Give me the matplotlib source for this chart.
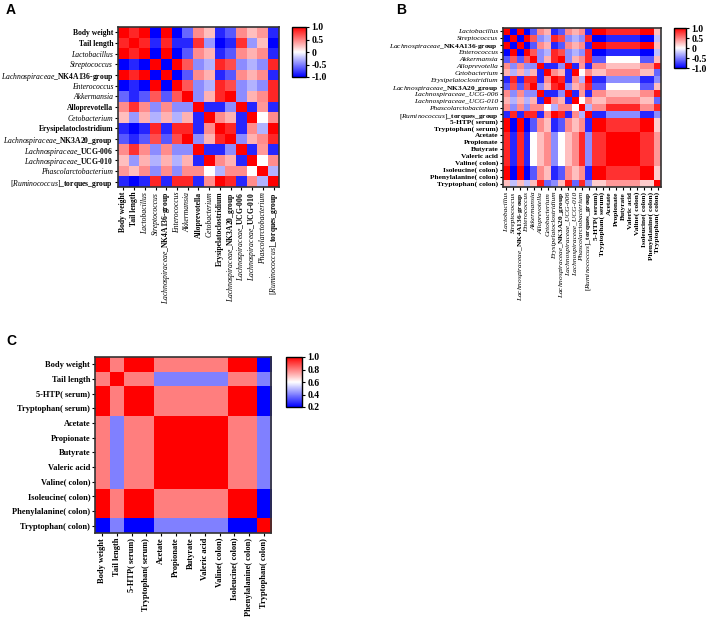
import matplotlib
matplotlib.use("Agg")
import matplotlib.pyplot as plt
import numpy as np

plt.rcParams['font.family'] = 'Liberation Serif'
plt.rcParams['mathtext.fontset'] = 'custom'
plt.rcParams['mathtext.it'] = 'Liberation Serif:italic'
plt.rcParams['mathtext.rm'] = 'Liberation Serif'
plt.rcParams['mathtext.bf'] = 'Liberation Serif:bold'

# ---- panel A: phenotype + genera ----
labels_a = ["Body weight", "Tail length", "Lactobacillus", "Streptococcus",
            r"$\mathit{Lachnospiraceae}$_NK4A136-group", "Enterococcus", "Akkermansia",
            "Alloprevotella", "Cetobacterium", "Erysipelatoclostridium",
            r"$\mathit{Lachnospiraceae}$_NK3A20_group", r"$\mathit{Lachnospiraceae}$_UCG-006",
            r"$\mathit{Lachnospiraceae}$_UCG-010", "Phascolarctobacterium",
            r"$\mathit{[Ruminococcus]}$_torques_group"]
styles_a = ["b", "b", "i", "i", "m", "i", "i", "b", "i", "b", "m", "m", "m", "i", "m"]

corr_a = [
    [1.0, 0.85, 1.0, -1.0, 1.0, -1.0, -0.6, 0.45, 0.25, -0.85, -0.65, 0.45, 0.25, 0.4, -0.85],
    [0.85, 1.0, 0.85, -0.85, 0.85, -0.85, -0.85, 0.8, -0.4, -1.0, -0.85, 0.8, -0.4, 0.25, -1.0],
    [1.0, 0.85, 1.0, -1.0, 1.0, -1.0, -0.65, 0.45, 0.3, -0.85, -0.65, 0.45, 0.3, 0.45, -0.85],
    [-1.0, -0.85, -1.0, 1.0, -1.0, 1.0, 0.65, -0.45, -0.3, 0.85, 0.7, -0.45, -0.3, -0.45, 0.85],
    [1.0, 0.85, 1.0, -1.0, 1.0, -1.0, -0.65, 0.45, 0.3, -0.85, -0.65, 0.45, 0.3, 0.45, -0.85],
    [-1.0, -0.85, -1.0, 1.0, -1.0, 1.0, 0.65, -0.45, -0.3, 0.85, 0.7, -0.45, -0.3, -0.45, 0.85],
    [-0.6, -0.85, -0.65, 0.65, -0.65, 0.65, 1.0, -0.45, 0.3, 0.85, 1.0, -0.45, 0.3, 0.45, 0.85],
    [0.45, 0.8, 0.45, -0.45, 0.45, -0.45, -0.45, 1.0, -0.85, -0.85, -0.45, 1.0, -0.85, 0.4, -0.85],
    [0.25, -0.4, 0.3, -0.3, 0.3, -0.3, 0.3, -0.85, 1.0, 0.45, 0.3, -0.85, 1.0, 0.0, 0.45],
    [-0.85, -1.0, -0.85, 0.85, -0.85, 0.85, 0.85, -0.85, 0.45, 1.0, 0.85, -0.85, 0.45, -0.3, 1.0],
    [-0.65, -0.85, -0.65, 0.7, -0.65, 0.7, 1.0, -0.45, 0.3, 0.85, 1.0, -0.45, 0.3, 0.45, 0.85],
    [0.45, 0.8, 0.45, -0.45, 0.45, -0.45, -0.45, 1.0, -0.85, -0.85, -0.45, 1.0, -0.85, 0.4, -0.85],
    [0.25, -0.4, 0.3, -0.3, 0.3, -0.3, 0.3, -0.85, 1.0, 0.45, 0.3, -0.85, 1.0, 0.0, 0.45],
    [0.4, 0.25, 0.45, -0.45, 0.45, -0.45, 0.45, 0.45, 0.0, -0.3, 0.45, 0.45, 0.0, 1.0, -0.3],
    [-0.85, -1.0, -0.85, 0.85, -0.85, 0.85, 0.85, -0.85, 0.45, 1.0, 0.85, -0.85, 0.45, -0.3, 1.0],
]

# ---- panel C: phenotype + metabolites ----
labels_c = ["Body weight", "Tail length", "5-HTP( serum)", "Tryptophan( serum)", "Acetate",
            "Propionate", "Butyrate", "Valeric acid", "Valine( colon)", "Isoleucine( colon)",
            "Phenylalanine( colon)", "Tryptophan( colon)"]

corr_c = [
    [1.0, 0.8, 1.0, 1.0, 0.8, 0.8, 0.8, 0.8, 0.8, 1.0, 1.0, 0.2],
    [0.8, 1.0, 0.8, 0.8, 0.4, 0.4, 0.4, 0.4, 0.4, 0.8, 0.8, 0.4],
    [1.0, 0.8, 1.0, 1.0, 0.8, 0.8, 0.8, 0.8, 0.8, 1.0, 1.0, 0.2],
    [1.0, 0.8, 1.0, 1.0, 0.8, 0.8, 0.8, 0.8, 0.8, 1.0, 1.0, 0.2],
    [0.8, 0.4, 0.8, 0.8, 1.0, 1.0, 1.0, 1.0, 1.0, 0.8, 0.8, 0.4],
    [0.8, 0.4, 0.8, 0.8, 1.0, 1.0, 1.0, 1.0, 1.0, 0.8, 0.8, 0.4],
    [0.8, 0.4, 0.8, 0.8, 1.0, 1.0, 1.0, 1.0, 1.0, 0.8, 0.8, 0.4],
    [0.8, 0.4, 0.8, 0.8, 1.0, 1.0, 1.0, 1.0, 1.0, 0.8, 0.8, 0.4],
    [0.8, 0.4, 0.8, 0.8, 1.0, 1.0, 1.0, 1.0, 1.0, 0.8, 0.8, 0.4],
    [1.0, 0.8, 1.0, 1.0, 0.8, 0.8, 0.8, 0.8, 0.8, 1.0, 1.0, 0.2],
    [1.0, 0.8, 1.0, 1.0, 0.8, 0.8, 0.8, 0.8, 0.8, 1.0, 1.0, 0.2],
    [0.2, 0.4, 0.2, 0.2, 0.4, 0.4, 0.4, 0.4, 0.4, 0.2, 0.2, 1.0],
]

# ---- panel B: genera + metabolites ----
labels_b = ["Lactobacillus", "Streptococcus", r"$\mathit{Lachnospiraceae}$_NK4A136-group",
            "Enterococcus", "Akkermansia", "Alloprevotella", "Cetobacterium",
            "Erysipelatoclostridium", r"$\mathit{Lachnospiraceae}$_NK3A20_group",
            "Lachnospiraceae_UCG-006", "Lachnospiraceae_UCG-010", "Phascolarctobacterium",
            r"$\mathit{[Ruminococcus]}$_torques_group"] + labels_c[2:]
styles_b = ["i", "i", "m", "i", "i", "i", "i", "i", "m", "i", "i", "i", "m"] + ["b"] * 10

# genus vs metabolite (cols: 5-HTP, Trp serum, Acetate, Propionate, Butyrate, Valeric, Valine, Ile, Phe, Trp colon)
genus_metab = [
    [1.0, 1.0, 0.85, 0.85, 0.85, 0.85, 0.85, 1.0, 1.0, 0.25],
    [-1.0, -1.0, -0.85, -0.85, -0.85, -0.85, -0.85, -1.0, -1.0, -0.25],
    [1.0, 1.0, 0.85, 0.85, 0.85, 0.85, 0.85, 1.0, 1.0, 0.25],
    [-1.0, -1.0, -0.85, -0.85, -0.85, -0.85, -0.85, -1.0, -1.0, -0.25],
    [-0.65, -0.65, 0.0, 0.0, 0.0, 0.0, 0.0, -0.65, -0.65, 0.25],
    [0.45, 0.45, 0.25, 0.25, 0.25, 0.25, 0.25, 0.45, 0.45, 0.9],
    [0.25, 0.25, 0.45, 0.45, 0.45, 0.45, 0.45, 0.25, 0.25, -0.6],
    [-0.85, -0.85, -0.45, -0.45, -0.45, -0.45, -0.45, -0.85, -0.85, -0.45],
    [-0.65, -0.65, 0.0, 0.0, 0.0, 0.0, 0.0, -0.65, -0.65, 0.25],
    [0.45, 0.45, 0.25, 0.25, 0.25, 0.25, 0.25, 0.45, 0.45, 0.9],
    [0.25, 0.25, 0.45, 0.45, 0.45, 0.45, 0.45, 0.25, 0.25, -0.6],
    [0.45, 0.45, 0.85, 0.85, 0.85, 0.85, 0.85, 0.45, 0.45, 0.85],
    [-0.85, -0.85, -0.45, -0.45, -0.45, -0.45, -0.45, -0.85, -0.85, -0.45],
]

A = np.array(corr_a)
C = np.array(corr_c)
GM = np.array(genus_metab)
B = np.block([[A[2:, 2:], GM], [GM.T, C[2:, 2:]]])

W, H = 708, 626
fig = plt.figure(figsize=(W / 100, H / 100), dpi=100)


def box(x0, y0, x1, y1):
    return [x0 / W, 1 - y1 / H, (x1 - x0) / W, (y1 - y0) / H]


def heat(rect, mat, labels, styles, vmin, vmax, fs):
    ax = fig.add_axes(rect)
    im = ax.imshow(mat, cmap='bwr', vmin=vmin, vmax=vmax, aspect='auto',
                   interpolation='nearest')
    n = len(labels)
    ax.set_xticks(range(n))
    ax.set_yticks(range(n))
    ax.set_xticklabels(labels, rotation=90)
    ax.set_yticklabels(labels)
    for lab_list in (ax.get_xticklabels(), ax.get_yticklabels()):
        for t, s in zip(lab_list, styles):
            t.set_fontsize(fs)
            if s == "i":
                t.set_fontstyle('italic')
                t.set_fontweight('normal')
            else:
                t.set_fontweight('bold')
    ax.tick_params(length=2.5, width=0.8, pad=1)
    for sp in ax.spines.values():
        sp.set_linewidth(1.2)
        sp.set_color('#333333')
    return im


def cbar(im, rect, ticks, ticklabels):
    cax = fig.add_axes(rect)
    cb = fig.colorbar(im, cax=cax)
    cb.set_ticks(ticks)
    cb.set_ticklabels(ticklabels)
    cb.ax.tick_params(length=2, width=0.8, pad=2, labelsize=7)
    for t in cb.ax.get_yticklabels():
        t.set_fontweight('bold')
    cb.outline.set_linewidth(1.0)
    return cb


im_a = heat(box(118, 27, 279, 187), A, labels_a, styles_a, -1, 1, 5.5)
cbar(im_a, box(292, 27, 306, 77), [1, 0.5, 0, -0.5, -1], ["1.0", "0.5", "0", "-0.5", "-1.0"])

im_b = heat(box(503, 28, 661, 187), B, labels_b, styles_b, -1, 1, 5.3)
cbar(im_b, box(674, 28, 686, 68), [1, 0.5, 0, -0.5, -1], ["1.0", "0.5", "0", "-0.5", "-1.0"])

im_c = heat(box(95, 357, 271, 533), C, labels_c, ["b"] * 12, 0.2, 1.0, 6)
cbar(im_c, box(286, 357, 302, 407), [1.0, 0.8, 0.6, 0.4, 0.2], ["1.0", "0.8", "0.6", "0.4", "0.2"])

for letter, (x, y) in zip("ABC", [(6, 10), (396, 10), (6, 341)]):
    fig.text(x / W, 1 - y / H, letter, fontsize=10, fontweight='bold',
             family='Liberation Sans', va='center', ha='left')

fig.savefig("out.png", dpi=100)
